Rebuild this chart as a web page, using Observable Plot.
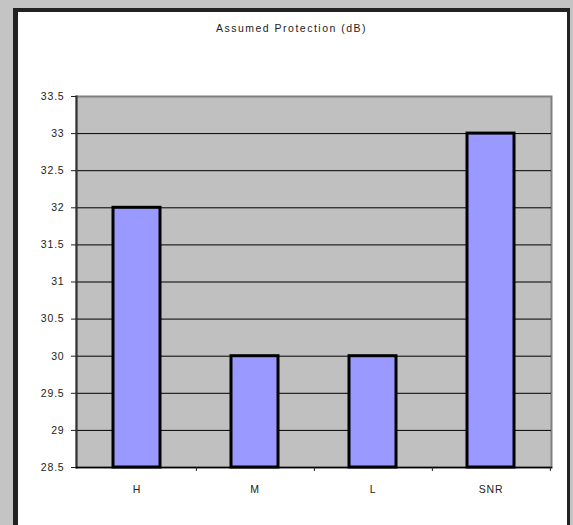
<!DOCTYPE html>
<html>
<head>
<meta charset="utf-8">
<script src="https://cdn.jsdelivr.net/npm/d3@7"></script>
<script src="https://cdn.jsdelivr.net/npm/@observablehq/plot@0.6"></script>
<style>
  html, body { margin: 0; padding: 0; width: 573px; height: 525px; overflow: hidden; background: #c4c4c4; }
  #frame { position: absolute; left: 13px; top: 8px; width: 557px; height: 540px; box-sizing: border-box;
           background: #fff; border-left: 5px solid #222; border-top: 4px solid #222; border-right: 3px solid #222; }
  #title { position: absolute; left: 13px; width: 557px; top: 22px; text-align: center;
           font-family: "Liberation Sans", Arial, sans-serif; font-size: 10.5px; letter-spacing: 1.5px; color: #222; }
  #chart { position: absolute; left: 0; top: 0; }
</style>
</head>
<body>
<div id="frame"></div>
<div id="title"></div>
<div id="chart"></div>
<script>
const titleText = "Assumed Protection (dB)";
const categories = ["H", "M", "L", "SNR"];
const values = [32, 30, 30, 33];
const yTicks = [28.5, 29, 29.5, 30, 30.5, 31, 31.5, 32, 32.5, 33, 33.5];
const yMin = 28.5, yMax = 33.5;

document.getElementById("title").textContent = titleText;

const data = categories.map((c, i) => ({cat: c, value: values[i]}));

const W = 573, H = 525, mL = 76, mR = 22, mT = 96, mB = 58;
const step = (W - mL - mR) / categories.length;

const chart = Plot.plot({
  width: W, height: H,
  marginLeft: mL, marginRight: mR, marginTop: mT, marginBottom: mB,
  style: {background: "transparent", fontFamily: "Liberation Sans, Arial, sans-serif", fontSize: "10.5px", color: "#222", letterSpacing: "0.8px"},
  x: {domain: categories, paddingInner: 0.6, paddingOuter: 0.3, label: null},
  y: {domain: [yMin, yMax], label: null},
  marks: [
    Plot.frame({fill: "#c0c0c0", stroke: "#808080", strokeWidth: 2}),
    Plot.ruleY(yTicks.slice(1, -1), {stroke: "#000", strokeWidth: 1}),
    Plot.barY(data, {x: "cat", y1: yMin, y2: "value", fill: "#9999ff", stroke: "#000", strokeWidth: 3}),
    Plot.frame({anchor: "left", stroke: "#333", strokeWidth: 2}),
    Plot.frame({anchor: "bottom", stroke: "#000", strokeWidth: 1.5}),
    Plot.axisY({ticks: yTicks, tickSize: 5, tickPadding: 7, tickFormat: d => String(d), label: null, stroke: "#222"}),
    Plot.axisX({tickSize: 4, tickFormat: () => "", dx: step / 2, label: null, stroke: "#222"}),
    Plot.axisX({tickSize: 0, tickPadding: 18, label: null})
  ]
});
document.getElementById("chart").appendChild(chart);
</script>
</body>
</html>
